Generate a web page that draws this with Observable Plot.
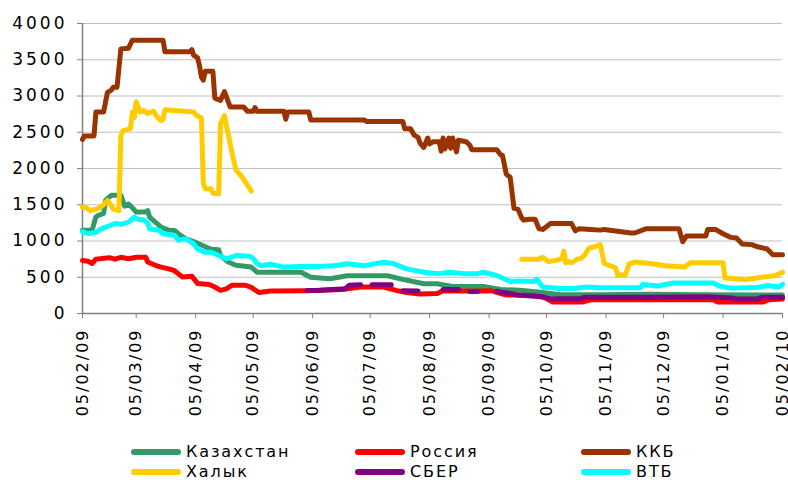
<!DOCTYPE html>
<html>
<head>
<meta charset="utf-8">
<script src="https://cdn.jsdelivr.net/npm/d3@7"></script>
<script src="https://cdn.jsdelivr.net/npm/@observablehq/plot@0.6"></script>
<style>
  body { margin: 0; background: #fff; font-family: "DejaVu Sans", sans-serif; overflow: hidden; }
  #chart svg text { letter-spacing: 2px; }
  #chart svg .yax text { letter-spacing: 3px; font-size: 17px; }
  #legend { position: relative; width: 788px; height: 40px; }
  .item { position: absolute; display: flex; align-items: center; font-size: 16px; line-height: 16px; letter-spacing: 1.9px; color: #000; height: 16px; }
  .sw { display: inline-block; width: 50px; height: 6px; border-radius: 3px; margin-right: 5px; }
</style>
</head>
<body>
<div id="chart"></div>
<div id="legend"></div>
<script>
const seriesNames = ["Казахстан", "Россия", "ККБ", "Халык", "СБЕР", "ВТБ"];
const seriesColors = ["#339966", "#ff0000", "#993300", "#ffcc00", "#800080", "#00ffff"];
const yTicks = [0, 500, 1000, 1500, 2000, 2500, 3000, 3500, 4000];
const xTickDates = ["2009-02-05","2009-03-05","2009-04-05","2009-05-05","2009-06-05","2009-07-05","2009-08-05","2009-09-05","2009-10-05","2009-11-05","2009-12-05","2010-01-05","2010-02-05"];

const kazakhstan = [["2009-02-05",1150],["2009-02-10",1150],["2009-02-12",1330],["2009-02-13",1350],["2009-02-16",1380],["2009-02-17",1560],["2009-02-20",1630],["2009-02-25",1630],["2009-02-27",1480],["2009-03-01",1510],["2009-03-04",1430],["2009-03-05",1400],["2009-03-10",1400],["2009-03-11",1420],["2009-03-12",1330],["2009-03-15",1260],["2009-03-18",1190],["2009-03-22",1150],["2009-03-25",1145],["2009-03-27",1100],["2009-03-31",1030],["2009-04-05",980],["2009-04-08",945],["2009-04-13",885],["2009-04-17",880],["2009-04-18",800],["2009-04-22",710],["2009-04-26",665],["2009-05-04",640],["2009-05-07",570],["2009-05-30",570],["2009-06-04",500],["2009-06-14",480],["2009-06-23",520],["2009-07-14",520],["2009-07-22",470],["2009-08-02",410],["2009-08-09",410],["2009-08-16",375],["2009-09-02",372],["2009-09-11",330],["2009-09-21",320],["2009-10-03",290],["2009-10-12",260],["2009-11-02",260],["2009-11-28",265],["2009-12-24",260],["2010-02-05",255]];

const russia = [["2009-02-05",730],["2009-02-08",720],["2009-02-10",690],["2009-02-12",750],["2009-02-19",770],["2009-02-22",750],["2009-02-25",775],["2009-03-01",755],["2009-03-05",775],["2009-03-10",775],["2009-03-11",710],["2009-03-15",665],["2009-03-18",640],["2009-03-22",615],["2009-03-25",590],["2009-03-29",505],["2009-04-03",515],["2009-04-06",415],["2009-04-12",400],["2009-04-15",365],["2009-04-18",320],["2009-04-21",340],["2009-04-24",390],["2009-05-01",390],["2009-05-04",360],["2009-05-08",290],["2009-05-14",310],["2009-06-02",315],["2009-06-20",330],["2009-06-30",365],["2009-07-12",365],["2009-07-19",315],["2009-07-24",290],["2009-07-31",270],["2009-08-09",275],["2009-08-12",315],["2009-08-20",310],["2009-09-02",310],["2009-09-06",315],["2009-09-14",255],["2009-09-28",250],["2009-10-04",220],["2009-10-08",160],["2009-10-24",160],["2009-10-28",190],["2009-12-31",190],["2010-01-02",160],["2010-01-26",160],["2010-01-29",190],["2010-02-05",200]];

const kkb = [["2009-02-05",2400],["2009-02-06",2450],["2009-02-11",2450],["2009-02-12",2780],["2009-02-16",2780],["2009-02-18",3050],["2009-02-20",3080],["2009-02-21",3120],["2009-02-23",3120],["2009-02-25",3650],["2009-03-01",3660],["2009-03-03",3770],["2009-03-19",3770],["2009-03-20",3610],["2009-04-02",3610],["2009-04-03",3640],["2009-04-04",3560],["2009-04-06",3530],["2009-04-07",3420],["2009-04-08",3260],["2009-04-09",3220],["2009-04-10",3340],["2009-04-14",3340],["2009-04-15",2970],["2009-04-18",2940],["2009-04-20",3060],["2009-04-21",2990],["2009-04-23",2850],["2009-04-30",2850],["2009-05-02",2790],["2009-05-05",2790],["2009-05-06",2840],["2009-05-07",2790],["2009-05-21",2790],["2009-05-22",2680],["2009-05-23",2780],["2009-06-03",2780],["2009-06-04",2670],["2009-07-02",2670],["2009-07-03",2650],["2009-07-22",2650],["2009-07-23",2550],["2009-07-26",2550],["2009-07-28",2460],["2009-07-30",2430],["2009-07-31",2350],["2009-08-02",2290],["2009-08-04",2420],["2009-08-05",2340],["2009-08-07",2370],["2009-08-10",2370],["2009-08-11",2240],["2009-08-12",2420],["2009-08-13",2270],["2009-08-15",2420],["2009-08-16",2280],["2009-08-17",2420],["2009-08-19",2230],["2009-08-20",2390],["2009-08-24",2370],["2009-08-26",2320],["2009-08-27",2260],["2009-09-09",2260],["2009-09-11",2190],["2009-09-12",2180],["2009-09-14",1920],["2009-09-16",1880],["2009-09-18",1450],["2009-09-20",1440],["2009-09-22",1320],["2009-09-23",1290],["2009-09-26",1300],["2009-09-29",1300],["2009-10-01",1170],["2009-10-03",1160],["2009-10-05",1200],["2009-10-07",1240],["2009-10-18",1240],["2009-10-20",1140],["2009-10-22",1170],["2009-10-28",1160],["2009-11-02",1150],["2009-11-04",1160],["2009-11-18",1110],["2009-11-20",1110],["2009-11-26",1170],["2009-12-13",1170],["2009-12-15",990],["2009-12-17",1070],["2009-12-27",1070],["2009-12-28",1160],["2010-01-01",1160],["2010-01-05",1100],["2010-01-09",1050],["2010-01-12",1040],["2010-01-15",960],["2010-01-20",950],["2010-01-23",920],["2010-01-28",890],["2010-01-31",810],["2010-02-05",810]];

const halyk = [["2009-02-05",1470],["2009-02-07",1460],["2009-02-09",1420],["2009-02-12",1440],["2009-02-14",1460],["2009-02-16",1500],["2009-02-18",1560],["2009-02-20",1490],["2009-02-21",1440],["2009-02-24",1420],["2009-02-25",2450],["2009-02-26",2520],["2009-03-02",2550],["2009-03-03",2780],["2009-03-04",2700],["2009-03-05",2920],["2009-03-07",2780],["2009-03-09",2800],["2009-03-11",2760],["2009-03-14",2790],["2009-03-16",2710],["2009-03-18",2660],["2009-03-19",2680],["2009-03-20",2810],["2009-04-04",2780],["2009-04-05",2740],["2009-04-08",2700],["2009-04-09",1800],["2009-04-10",1720],["2009-04-13",1720],["2009-04-14",1660],["2009-04-17",1650],["2009-04-18",2620],["2009-04-20",2730],["2009-04-24",2210],["2009-04-26",1980],["2009-04-29",1890],["2009-05-02",1770],["2009-05-04",1690],["2009-07-01",null],["2009-09-22",750],["2009-10-01",750],["2009-10-03",775],["2009-10-06",715],["2009-10-11",740],["2009-10-13",760],["2009-10-14",860],["2009-10-15",700],["2009-10-16",720],["2009-10-18",700],["2009-10-21",750],["2009-10-23",760],["2009-10-25",810],["2009-10-27",900],["2009-10-31",930],["2009-11-02",950],["2009-11-04",690],["2009-11-07",660],["2009-11-10",630],["2009-11-11",530],["2009-11-15",530],["2009-11-17",680],["2009-11-20",710],["2009-11-28",690],["2009-12-06",660],["2009-12-16",640],["2009-12-19",700],["2010-01-05",700],["2010-01-06",490],["2010-01-17",470],["2010-01-25",500],["2010-02-01",520],["2010-02-05",570]];

const sber = [["2009-06-02",317],["2009-06-09",320],["2009-06-22",340],["2009-06-24",390],["2009-06-30",395],["2009-07-03",null],["2009-07-06",395],["2009-07-16",395],["2009-07-19",null],["2009-07-22",315],["2009-07-30",310],["2009-08-05",null],["2009-08-12",330],["2009-08-20",330],["2009-08-23",null],["2009-08-26",305],["2009-08-30",305],["2009-09-03",null],["2009-09-09",305],["2009-09-15",280],["2009-09-21",250],["2009-10-03",230],["2009-10-07",205],["2009-10-23",205],["2009-10-25",225],["2009-11-23",225],["2009-12-28",230],["2010-01-10",215],["2010-01-12",200],["2010-01-23",200],["2010-01-25",225],["2010-02-05",225]];

const vtb = [["2009-02-05",1130],["2009-02-08",1100],["2009-02-12",1120],["2009-02-15",1170],["2009-02-19",1210],["2009-02-22",1240],["2009-02-25",1230],["2009-03-01",1260],["2009-03-04",1330],["2009-03-06",1300],["2009-03-09",1290],["2009-03-11",1250],["2009-03-12",1170],["2009-03-17",1145],["2009-03-19",1100],["2009-03-25",1080],["2009-03-27",1010],["2009-03-31",1030],["2009-04-04",960],["2009-04-06",890],["2009-04-10",845],["2009-04-13",845],["2009-04-17",800],["2009-04-21",755],["2009-04-23",770],["2009-04-26",800],["2009-05-03",790],["2009-05-05",760],["2009-05-07",690],["2009-05-09",660],["2009-05-14",680],["2009-05-21",640],["2009-05-30",650],["2009-06-08",650],["2009-06-16",660],["2009-06-23",685],["2009-07-02",660],["2009-07-12",708],["2009-07-17",690],["2009-07-24",615],["2009-08-02",570],["2009-08-09",550],["2009-08-16",570],["2009-08-23",550],["2009-08-30",550],["2009-09-02",570],["2009-09-09",525],["2009-09-16",440],["2009-09-21",450],["2009-09-28",440],["2009-09-30",470],["2009-10-03",365],["2009-10-12",345],["2009-10-19",345],["2009-10-26",365],["2009-11-02",355],["2009-11-23",355],["2009-11-24",400],["2009-12-02",380],["2009-12-10",420],["2009-12-31",420],["2010-01-03",380],["2010-01-09",350],["2010-01-23",360],["2010-01-28",385],["2010-02-03",365],["2010-02-05",400]];

const seriesData = [kazakhstan, russia, kkb, halyk, sber, vtb];

const parse = d3.utcParse("%Y-%m-%d");
const toRows = arr => arr.map(([d, v]) => ({date: parse(d), value: v}));
const xTicks = xTickDates.map(parse);
const xDomain = [xTicks[0], xTicks[xTicks.length - 1]];

const lineMarks = seriesData.map((arr, i) =>
  Plot.line(toRows(arr), {
    x: "date", y: "value",
    stroke: seriesColors[i], strokeWidth: 5,
    strokeLinejoin: "round", strokeLinecap: "round"
  })
);

const chart = Plot.plot({
  width: 788,
  height: 440,
  marginLeft: 82,
  marginRight: 6,
  marginTop: 23,
  marginBottom: 127,
  style: {fontFamily: "'DejaVu Sans', sans-serif", fontSize: "16px", color: "#000", background: "#fff"},
  x: {type: "utc", domain: xDomain},
  y: {domain: [0, 4000]},
  marks: [
    Plot.gridY({ticks: yTicks, stroke: "#c0c0c0", strokeOpacity: 1, strokeWidth: 1}),
    Plot.ruleY([0], {stroke: "#808080", strokeWidth: 1.5}),
    Plot.ruleX([xDomain[0]], {stroke: "#808080", strokeWidth: 1.5}),
    Plot.axisY({ticks: yTicks, tickFormat: d => String(d), tickSize: 5, tickPadding: 10, stroke: "#808080", fill: "#000", label: null, className: "yax"}),
    Plot.axisX({ticks: xTicks, tickFormat: d3.utcFormat("%d/%m/%y"), tickRotate: -90, tickSize: 5, tickPadding: 10, stroke: "#808080", fill: "#000", label: null}),
    ...lineMarks
  ]
});
document.getElementById("chart").appendChild(chart);

const legendCols = [131, 355, 581];
const legend = document.getElementById("legend");
seriesNames.forEach((name, i) => {
  const item = document.createElement("div");
  item.className = "item";
  item.style.left = legendCols[i % 3] + "px";
  item.style.top = (4 + Math.floor(i / 3) * 20) + "px";
  const sw = document.createElement("span");
  sw.className = "sw";
  sw.style.background = seriesColors[i];
  const lab = document.createElement("span");
  lab.textContent = name;
  item.appendChild(sw);
  item.appendChild(lab);
  legend.appendChild(item);
});
</script>
</body>
</html>
